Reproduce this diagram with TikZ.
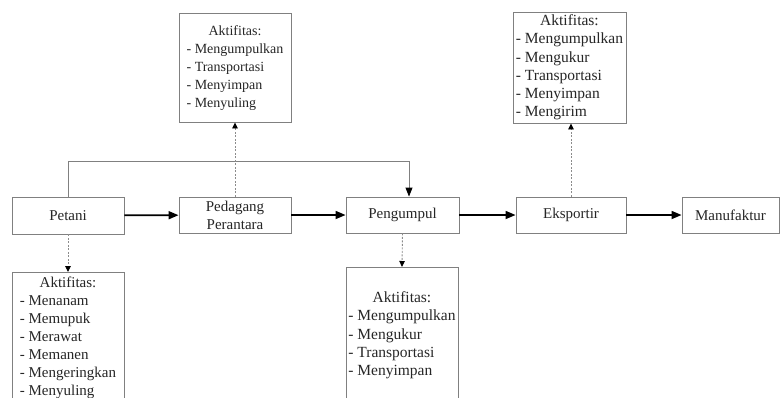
\documentclass[tikz,border=0pt]{standalone}
\usepackage{fontspec}
\setmainfont{Liberation Serif}
\usetikzlibrary{arrows.meta,calc}
\begin{document}
\begin{tikzpicture}[x=1pt,y=-1pt,
  box/.style={draw=black!50, line width=0.9pt, fill=white, inner sep=0pt, text=black!85,
    font=\fontsize{15}{18}\selectfont, align=center},
  flow/.style={line width=1.7pt, -{Triangle[length=10pt,width=8pt]}},
  dot/.style={draw=black!45, line width=0.9pt, dash pattern=on 2pt off 1.5pt,
    -{Triangle[length=6pt,width=5.5pt,fill=black,color=black]}},
  fb/.style={draw=black!50, line width=0.9pt, -{Triangle[length=9pt,width=7pt,fill=black,color=black]}}]
\useasboundingbox (0,0) rectangle (781,397);
\clip (0,0) rectangle (781,397);
% main chain
\node[box, minimum width=112pt, minimum height=37pt] (pet) at (68,215.5) {Petani};
\node[box, minimum width=112pt, minimum height=36pt] (ped) at (235,215) {Pedagang\\Perantara};
\node[box, minimum width=113pt, minimum height=36pt] (png) at (402.5,215) {Pengumpul};
\node[box, minimum width=110pt, minimum height=36pt] (eks) at (571,215) {Eksportir};
\node[box, minimum width=97pt, minimum height=36pt] (man) at (730.5,215) {Manufaktur};
% activity boxes
\node[box, font=\fontsize{14}{18}\selectfont, minimum width=112pt, minimum height=109pt] (aped) at (235,67.5)
  {\begin{tabular}{@{}l@{}}\multicolumn{1}{c}{Aktifitas:}\\- Mengumpulkan\\- Transportasi\\- Menyimpan\\- Menyuling\end{tabular}};
\node[box, font=\fontsize{15.5}{18.2}\selectfont, minimum width=113pt, minimum height=111pt] (aeks) at (569.5,67.5)
  {\begin{tabular}{@{}l@{}}\multicolumn{1}{c}{Aktifitas:}\\- Mengumpulkan\\- Mengukur\\- Transportasi\\- Menyimpan\\- Mengirim\end{tabular}};
\node[box, anchor=north, minimum width=112pt, minimum height=131pt] (apet) at (68,272)
  {\begin{tabular}{@{}l@{}}\multicolumn{1}{c}{Aktifitas:}\\- Menanam\\- Memupuk\\- Merawat\\- Memanen\\- Mengeringkan\\- Menyuling\end{tabular}};
\node[box, font=\fontsize{15.5}{18.2}\selectfont, anchor=north, minimum width=112pt, minimum height=136pt] (apng) at (402,267)
  {\begin{tabular}{@{}l@{}}\multicolumn{1}{c}{Aktifitas:}\\- Mengumpulkan\\- Mengukur\\- Transportasi\\- Menyimpan\end{tabular}};
% flow arrows
\draw[flow] (pet) -- (ped);
\draw[flow] (ped) -- (png);
\draw[flow] (png) -- (eks);
\draw[flow] (eks) -- (man);
% feedback line
\coordinate (fbend) at ([xshift=6.5pt]png.north);
\draw[fb] (pet.north) -- ++(0,-35) -| (fbend);
% dotted arrows
\draw[dot] (pet.south) -- (apet.north);
\draw[dot] (ped.north) -- (aped.south);
\draw[dot] (png.south) -- (apng.north);
\draw[dot] (eks.north) -- (eks.north |- aeks.south);
\end{tikzpicture}
\end{document}
